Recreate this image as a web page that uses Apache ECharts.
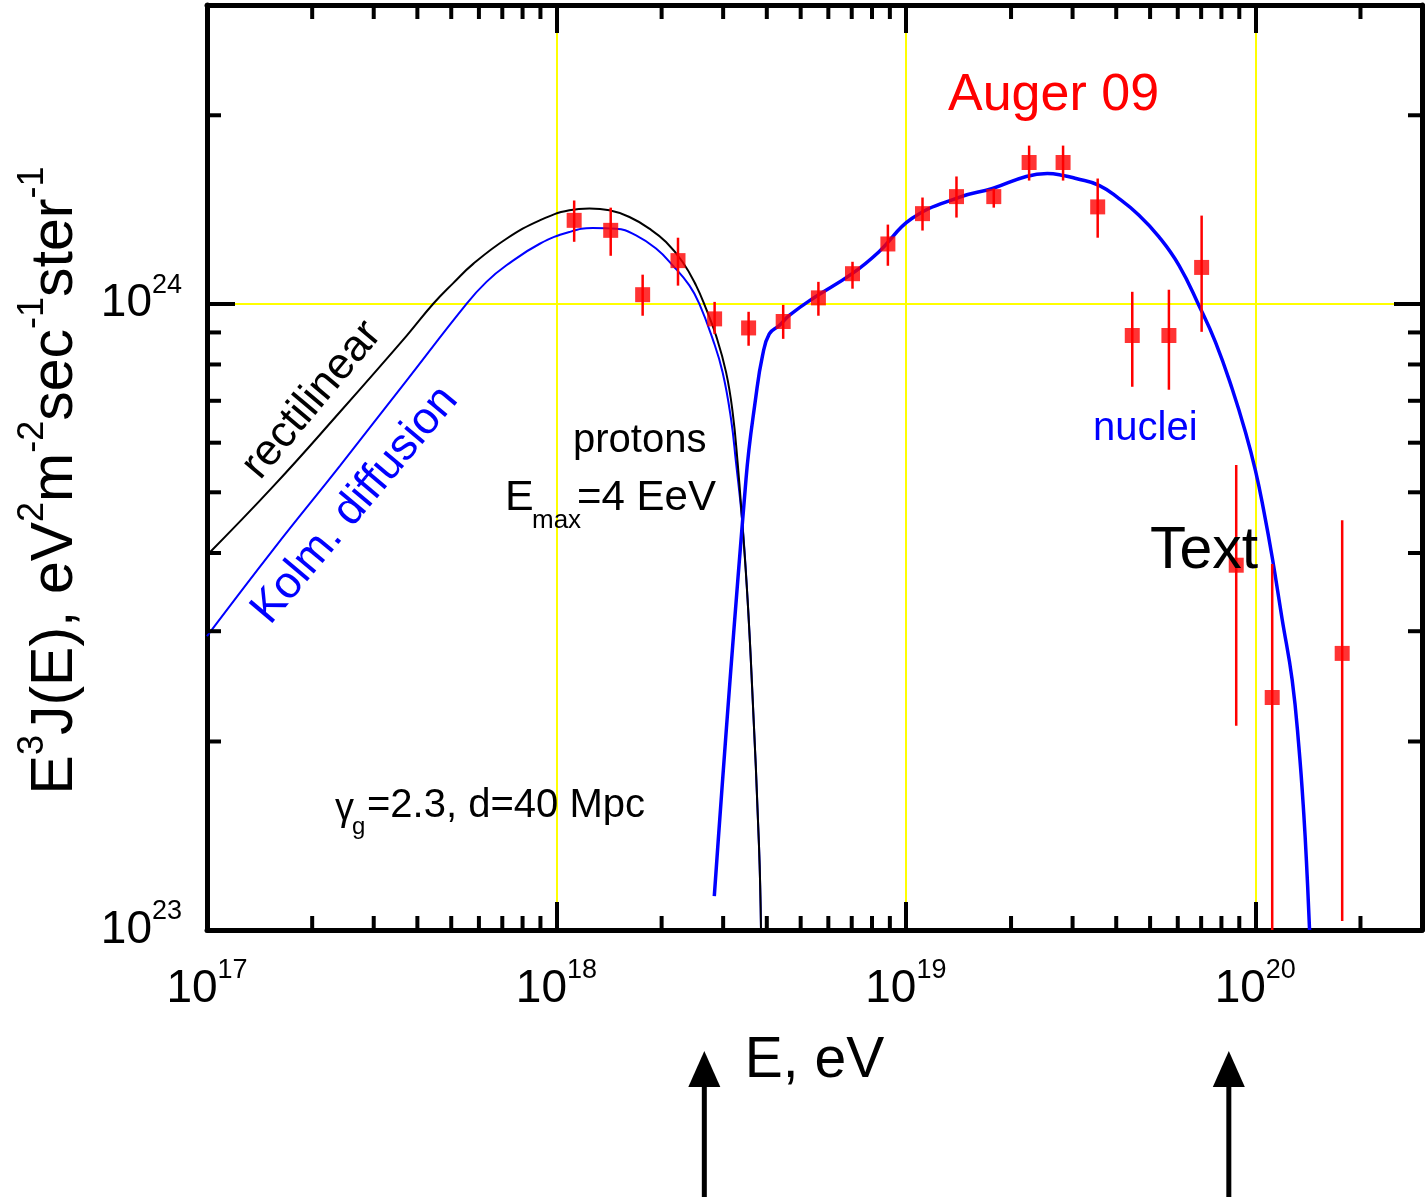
<!DOCTYPE html>
<html>
<head>
<meta charset="utf-8">
<title>E3J(E) spectrum</title>
<script src="https://cdn.jsdelivr.net/npm/echarts@6.0.0/dist/echarts.min.js"></script>
<style>
  html, body { margin: 0; padding: 0; background: #fff; }
  #chart { width: 1427px; height: 1197px; }
</style>
</head>
<body>
<div id="chart"></div>
<script>
  // axis ranges
  var xMin = 1e17, xMax = 3e20;
  var yMin = 1e23, yMax = 3e24;

  // Auger 09 points (E, flux, error bar low / high)
  var augerE  = [1.124e18, 1.430e18, 1.765e18, 2.228e18, 2.836e18, 3.548e18, 4.456e18, 5.62e18, 7.036e18, 8.883e18,
                 1.116e19, 1.396e19, 1.785e19, 2.253e19, 2.818e19, 3.54e19, 4.446e19, 5.66e19, 7.022e19,
                 8.82e19, 1.118e20, 1.773e20];
  var augerY  = [1.359e24, 1.310e24, 1.034e24, 1.172e24, 9.46e23, 9.15e23, 9.37e23, 1.022e24, 1.117e24, 1.246e24,
                 1.393e24, 1.483e24, 1.483e24, 1.681e24, 1.681e24, 1.428e24, 8.90e23, 8.90e23, 1.143e24,
                 3.824e23, 2.351e23, 2.765e23];
  var augerLo = [1.256e24, 1.193e24, 9.57e23, 1.069e24, 8.95e23, 8.57e23, 8.79e23, 9.57e23, 1.057e24, 1.150e24,
                 1.309e24, 1.373e24, 1.424e24, 1.573e24, 1.573e24, 1.275e24, 7.37e23, 7.29e23, 9.02e23,
                 2.12e23, 1.0e23, 1.034e23];
  var augerHi = [1.462e24, 1.424e24, 1.113e24, 1.275e24, 1.007e24, 9.71e23, 9.96e23, 1.084e24, 1.167e24, 1.338e24,
                 1.478e24, 1.597e24, 1.528e24, 1.789e24, 1.789e24, 1.585e24, 1.045e24, 1.053e24, 1.383e24,
                 5.53e23, 3.84e23, 4.51e23];

  // protons, rectilinear propagation
  var rectE = [1e17, 1.549e17, 2.401e17, 3.725e17, 4.441e17, 5.066e17, 5.778e17, 7.194e17, 8.96e17, 1.089e18, 1.243e18,
               1.418e18, 1.618e18, 1.845e18, 2.059e18, 2.297e18, 2.509e18, 2.68e18, 2.862e18, 3.058e18, 3.194e18,
               3.30e18, 3.40e18, 3.524e18, 3.63e18, 3.80e18, 3.85e18];
  var rectY = [3.967e23, 5.114e23, 6.717e23, 8.888e23, 1.0e24, 1.079e24, 1.158e24, 1.27e24, 1.359e24, 1.41e24, 1.419e24,
               1.41e24, 1.376e24, 1.318e24, 1.255e24, 1.166e24, 1.07e24, 9.82e23, 8.90e23, 7.777e23, 6.709e23,
               5.58e23, 4.51e23, 3.373e23, 2.45e23, 1.36e23, 1.0e23];

  // protons, Kolmogorov diffusion
  var kolmE = [1e17, 1.549e17, 2.401e17, 3.725e17, 5.529e17, 6.306e17, 7.194e17, 8.96e17, 1.089e18, 1.27e18, 1.482e18,
               1.69e18, 1.928e18, 2.151e18, 2.401e18, 2.565e18, 2.799e18, 2.989e18, 3.16e18, 3.265e18,
               3.40e18, 3.524e18, 3.63e18, 3.80e18, 3.85e18];
  var kolmY = [2.946e23, 4.055e23, 5.511e23, 7.541e23, 1.0e24, 1.084e24, 1.152e24, 1.247e24, 1.302e24, 1.321e24, 1.318e24,
               1.286e24, 1.225e24, 1.152e24, 1.07e24, 1.0e24, 8.79e23, 7.777e23, 6.546e23, 5.58e23,
               4.51e23, 3.373e23, 2.45e23, 1.36e23, 1.0e23];

  // nuclei
  var nucE = [2.83e18, 3.488e18, 3.725e18, 3.89e18, 4.066e18, 4.342e18, 4.638e18, 5.39e18, 7.02e18, 8.38e18,
              1.04e19, 1.42e19, 1.77e19, 2.21e19, 2.54e19, 2.82e19, 3.07e19, 3.571e19, 4.074e19, 4.647e19,
              5.302e19, 6.048e19, 6.898e19, 7.697e19, 8.591e19, 9.38e19, 1.002e20, 1.058e20, 1.118e20,
              1.194e20, 1.275e20, 1.333e20, 1.377e20, 1.407e20, 1.43e20];
  var nucY = [1.133e23, 5.248e23, 7.13e23, 8.27e23, 8.95e23, 9.23e23, 9.58e23, 1.018e24, 1.117e24, 1.211e24,
              1.368e24, 1.479e24, 1.528e24, 1.597e24, 1.614e24, 1.603e24, 1.585e24, 1.546e24, 1.472e24, 1.385e24,
              1.279e24, 1.152e24, 9.94e23, 8.68e23, 7.31e23, 6.23e23, 5.405e23, 4.665e23, 3.937e23,
              3.133e23, 2.51e23, 1.96e23, 1.528e23, 1.225e23, 1.0e23];

  // minor ticks (2..9 in each decade)
  var minorMant = [2, 3, 4, 5, 6, 7, 8, 9];
  var xDecades = [1e17, 1e18, 1e19, 1e20];
  var yDecades = [1e23, 1e24];

  // arrows under the axis
  var arrowE = [2.65e18, 8.4e19];

  var SANS = "'Liberation Sans', Arial, sans-serif";
  var NARROW = "'Liberation Sans Narrow', 'Arial Narrow', 'Liberation Sans', sans-serif";

  function zip(a, b) { return a.map(function (v, i) { return [v, b[i]]; }); }

  var xMinor = [], yMinor = [];
  xDecades.forEach(function (d) {
    minorMant.forEach(function (m) { if (m * d < xMax) xMinor.push([m * d, yMin]); });
  });
  yDecades.forEach(function (d) {
    minorMant.forEach(function (m) { if (m * d < yMax) yMinor.push([xMin, m * d]); });
  });

  function powLabel(v) {
    var l = Math.log(v) / Math.LN10;
    if (Math.abs(l - Math.round(l)) > 1e-6) return '';
    return '{m|10}{s|' + Math.round(l) + '}';
  }

  var labelRich = {
    m: { fontSize: 46, lineHeight: 64, fontFamily: NARROW, color: '#000' },
    s: { fontSize: 27, lineHeight: 27, verticalAlign: 'top', fontFamily: NARROW, color: '#000' }
  };

  function tickRender(isX) {
    return function (params, api) {
      var cs = params.coordSys;
      var len = 14;
      var st = { stroke: '#000', lineWidth: 4 };
      if (isX) {
        var px = api.coord([api.value(0), yMin])[0];
        return { type: 'group', children: [
          { type: 'line', shape: { x1: px, y1: cs.y + cs.height, x2: px, y2: cs.y + cs.height - len }, style: st },
          { type: 'line', shape: { x1: px, y1: cs.y, x2: px, y2: cs.y + len }, style: st }
        ]};
      }
      var py = api.coord([xMin, api.value(1)])[1];
      return { type: 'group', children: [
        { type: 'line', shape: { x1: cs.x, y1: py, x2: cs.x + len, y2: py }, style: st },
        { type: 'line', shape: { x1: cs.x + cs.width, y1: py, x2: cs.x + cs.width - len, y2: py }, style: st }
      ]};
    };
  }

  var chart = echarts.init(document.getElementById('chart'));

  var axisLineStyle = { show: true, onZero: false, lineStyle: { color: '#000', width: 5 } };
  var majorTick = { show: true, inside: true, length: 28, lineStyle: { color: '#000', width: 4 } };

  chart.setOption({
    animation: false,
    backgroundColor: '#fff',
    textStyle: { fontFamily: SANS },
    grid: { left: 207, right: 5, top: 5, bottom: 267, outerBoundsMode: 'none' },
    xAxis: [{
      type: 'log', logBase: 10, min: xMin, max: xMax, position: 'bottom',
      axisLine: axisLineStyle, axisTick: majorTick,
      axisLabel: { margin: 27, formatter: powLabel, rich: labelRich },
      splitLine: { show: true, lineStyle: { color: '#ffff00', width: 2 } },
      name: 'E, eV', nameLocation: 'middle', nameGap: 103, nameMoveOverlap: false,
      nameTextStyle: { fontSize: 57, fontFamily: SANS, color: '#000' }
    }, {
      type: 'log', logBase: 10, min: xMin, max: xMax, position: 'top',
      axisLine: axisLineStyle, axisTick: majorTick,
      axisLabel: { show: false }, splitLine: { show: false }
    }],
    yAxis: [{
      type: 'log', logBase: 10, min: yMin, max: yMax, position: 'left',
      axisLine: axisLineStyle, axisTick: majorTick,
      axisLabel: { margin: 25, formatter: powLabel, rich: labelRich },
      splitLine: { show: true, lineStyle: { color: '#ffff00', width: 2 } },
      name: '{b|E}{s|3}{b|J(E), eV}{s|2}{b|m}{s|-2}{b|sec}{s|-1}{b|ster}{s|-1}',
      nameLocation: 'middle', nameRotate: 90, nameGap: 110, nameMoveOverlap: false,
      nameTextStyle: {
        padding: [0, 26, 0, 0],
        rich: {
          b: { fontSize: 59, lineHeight: 82, fontFamily: SANS, color: '#000' },
          s: { fontSize: 36, lineHeight: 36, verticalAlign: 'top', fontFamily: SANS, color: '#000' }
        }
      }
    }, {
      type: 'log', logBase: 10, min: yMin, max: yMax, position: 'right',
      axisLine: axisLineStyle, axisTick: majorTick,
      axisLabel: { show: false }, splitLine: { show: false }
    }],
    series: [
      { type: 'custom', name: 'xminor', data: xMinor, renderItem: tickRender(true),
        encode: { x: 0, y: 1 }, silent: true, z: 6 },
      { type: 'custom', name: 'yminor', data: yMinor, renderItem: tickRender(false),
        encode: { x: 0, y: 1 }, silent: true, z: 6 },
      { type: 'line', name: 'Kolm. diffusion', data: zip(kolmE, kolmY), showSymbol: false,
        smooth: 0.45, lineStyle: { color: '#0000ff', width: 2 }, z: 2 },
      { type: 'line', name: 'rectilinear', data: zip(rectE, rectY), showSymbol: false,
        smooth: 0.45, lineStyle: { color: '#000', width: 2 }, z: 3 },
      { type: 'line', name: 'nuclei', data: zip(nucE, nucY), showSymbol: false,
        smooth: 0.45, lineStyle: { color: '#0000ff', width: 3.5 }, z: 3 },
      { type: 'custom', name: 'errors',
        data: augerE.map(function (e, i) { return [e, augerLo[i], augerHi[i]]; }),
        encode: { x: 0, y: [1, 2] }, z: 4,
        renderItem: function (params, api) {
          var e = api.value(0);
          var lo = api.coord([e, api.value(1)]);
          var hi = api.coord([e, api.value(2)]);
          return { type: 'line', shape: { x1: lo[0], y1: lo[1], x2: hi[0], y2: hi[1] },
                   style: { stroke: '#ff0000', lineWidth: 2.5 } };
        } },
      { type: 'scatter', name: 'Auger 09', data: zip(augerE, augerY), symbol: 'rect', symbolSize: 15,
        itemStyle: { color: '#ff0000' }, z: 5 }
    ]
  });

  function txt(x, y, s, size, color) {
    return { type: 'text', x: x, y: y, z: 100,
      style: { text: s, fontSize: size, fontFamily: SANS, fill: color, align: 'left', verticalAlign: 'middle' } };
  }

  var deg = Math.PI / 180;
  var graphics = [
    txt(948, 96, 'Auger 09', 52, '#ff0000'),
    txt(573, 441, 'protons', 40, '#000'),
    txt(505, 498, 'E', 43, '#000'),
    txt(532, 521, 'max', 26, '#000'),
    txt(577, 498, '=4 EeV', 42, '#000'),
    txt(335, 810, 'γ', 38, '#000'),
    txt(352, 827, 'g', 24, '#000'),
    txt(367, 806, '=2.3, d=40 Mpc', 40, '#000'),
    txt(1093, 429, 'nuclei', 40, '#0000ff'),
    txt(1150, 552, 'Text', 59, '#000'),
    { type: 'text', x: 312, y: 400, rotation: 50 * deg, z: 100,
      style: { text: 'rectilinear', fontSize: 44, fontFamily: SANS, fill: '#000', align: 'center', verticalAlign: 'middle' } },
    { type: 'text', x: 355, y: 505, rotation: 50 * deg, z: 100,
      style: { text: 'Kolm. diffusion', fontSize: 45, fontFamily: SANS, fill: '#0000ff', align: 'center', verticalAlign: 'middle' } }
  ];

  arrowE.forEach(function (e) {
    var ax = chart.convertToPixel({ xAxisIndex: 0 }, e);
    graphics.push({ type: 'rect', z: 100, shape: { x: ax - 2.5, y: 1080, width: 5, height: 120 }, style: { fill: '#000' } });
    graphics.push({ type: 'polygon', z: 100, shape: { points: [[ax, 1051], [ax - 16, 1087], [ax + 16, 1087]] }, style: { fill: '#000' } });
  });

  chart.setOption({ graphic: graphics });
</script>
</body>
</html>
